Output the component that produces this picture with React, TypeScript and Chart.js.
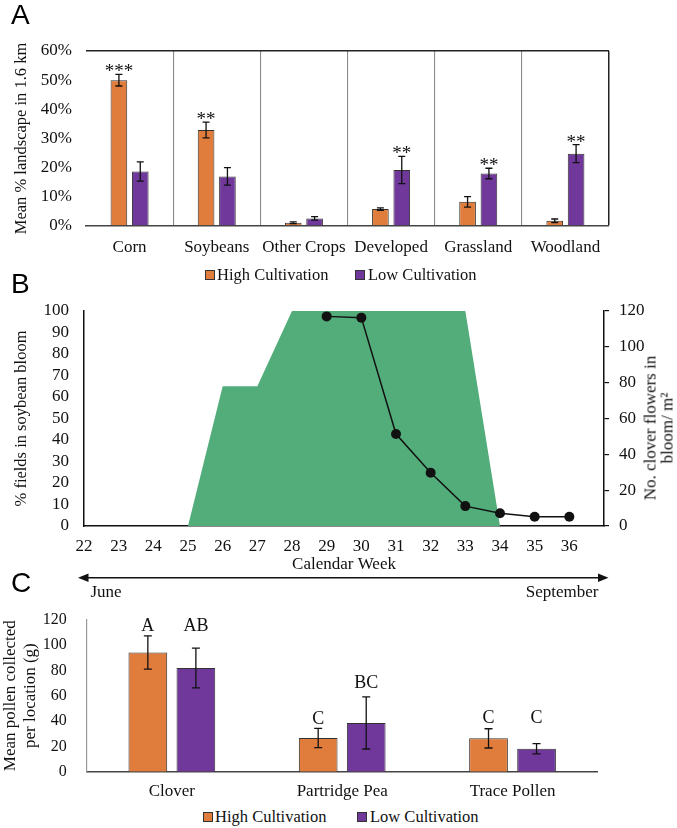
import React, { useEffect, useRef } from 'react';
import { Chart, registerables } from 'chart.js';

Chart.register(...registerables);

const SERIF = "'Liberation Serif', 'Times New Roman', serif";
const SANS = "'Liberation Sans', Arial, sans-serif";
const ORANGE = '#E07D3C';
const PURPLE = '#70389B';
const GREEN = '#52AD7A';
const INK = '#111111';

// ---- Panel A: landscape composition ----
const landCategories = ['Corn', 'Soybeans', 'Other Crops', 'Developed', 'Grassland', 'Woodland'];
const landHigh = [50.0, 32.9, 1.1, 5.8, 8.3, 1.8];
const landHighErr = [2.0, 2.7, 0.3, 0.4, 1.8, 0.6];
const landLow = [18.7, 17.0, 2.6, 19.2, 18.0, 24.8];
const landLowErr = [3.3, 3.0, 0.6, 4.7, 1.8, 3.1];
const landHighSig = ['***', '**', '', '', '', ''];
const landLowSig = ['', '', '', '**', '**', '**'];

// ---- Panel B: bloom phenology ----
const weeks = [22, 23, 24, 25, 26, 27, 28, 29, 30, 31, 32, 33, 34, 35, 36];
const soybeanBloom = [0, 0, 0, 0, 65, 65, 100, 100, 100, 100, 100, 100, 0, 0, 0];
const cloverWeeks = [29, 30, 31, 32, 33, 34, 35, 36];
const cloverFlowers = [117, 116.3, 51.3, 29.7, 11.1, 7.1, 5.2, 5.2];

// ---- Panel C: pollen collected ----
const pollenCategories = ['Clover', 'Partridge Pea', 'Trace Pollen'];
const pollenHigh = [94.0, 26.6, 26.3];
const pollenHighErr = [13.1, 7.6, 7.6];
const pollenLow = [81.8, 38.5, 18.1];
const pollenLowErr = [15.7, 20.6, 4.0];
const pollenHighLetters = ['A', 'C', 'C'];
const pollenLowLetters = ['AB', 'BC', 'C'];
const pollenHighLetterLevel = [115.9, 42.6, 43.1];
const pollenLowLetterLevel = [115.9, 70.4, 43.1];

const errorBarPlugin = {
  id: 'errorBars',
  afterDatasetsDraw(chart: any, _args: any, opts: any) {
    const { ctx } = chart;
    const yScale = chart.scales.y;
    chart.data.datasets.forEach((ds: any, i: number) => {
      if (!ds.errors) return;
      const meta = chart.getDatasetMeta(i);
      meta.data.forEach((el: any, j: number) => {
        const v = ds.data[j];
        const e = ds.errors[j];
        const yt = yScale.getPixelForValue(v + e);
        const yb = yScale.getPixelForValue(v - e);
        const cap = opts.cap;
        ctx.save();
        ctx.strokeStyle = INK;
        ctx.lineWidth = opts.lineWidth;
        ctx.beginPath();
        ctx.moveTo(el.x, yt);
        ctx.lineTo(el.x, yb);
        ctx.moveTo(el.x - cap, yt);
        ctx.lineTo(el.x + cap, yt);
        ctx.moveTo(el.x - cap, yb);
        ctx.lineTo(el.x + cap, yb);
        ctx.stroke();
        if (ds.marks && ds.marks[j]) {
          ctx.fillStyle = INK;
          ctx.font = `${opts.markSize}px ${SERIF}`;
          ctx.textAlign = 'center';
          ctx.textBaseline = 'alphabetic';
          let anchor;
          if (ds.markLevels) anchor = yScale.getPixelForValue(ds.markLevels[j]);
          else anchor = yt - opts.markGap;
          ctx.fillText(ds.marks[j], el.x, anchor + opts.markShift);
        }
        ctx.restore();
      });
    });
  },
};

const tickFont = (size: number) => ({ family: SERIF, size });
const flat = { maxRotation: 0, minRotation: 0, autoSkip: false };

function PanelA() {
  const ref = useRef<HTMLCanvasElement>(null);
  useEffect(() => {
    const chart = new Chart(ref.current as HTMLCanvasElement, {
      type: 'bar',
      data: {
        labels: landCategories,
        datasets: [
          {
            label: 'High Cultivation',
            data: landHigh,
            errors: landHighErr,
            marks: landHighSig,
            backgroundColor: ORANGE,
            borderColor: '#333',
            borderWidth: 1,
            categoryPercentage: 0.49,
            barPercentage: 0.78,
          } as any,
          {
            label: 'Low Cultivation',
            data: landLow,
            errors: landLowErr,
            marks: landLowSig,
            backgroundColor: PURPLE,
            borderColor: '#333',
            borderWidth: 1,
            categoryPercentage: 0.49,
            barPercentage: 0.78,
          } as any,
        ],
      },
      options: {
        responsive: false,
        animation: false,
        layout: { padding: { top: 51, right: 68, left: 0, bottom: 0 } },
        plugins: {
          legend: { display: false },
          tooltip: { enabled: false },
          errorBars: { cap: 3.5, lineWidth: 1.3, markSize: 19, markGap: 7, markShift: 10 },
        } as any,
        scales: {
          x: {
            grid: {
              display: true,
              offset: true,
              drawTicks: false,
              color: (c: any) => (c.index === undefined ? '#222' : c.index === 0 ? 'rgba(0,0,0,0)' : '#8a8a8a'),
              lineWidth: (c: any) => (c.index === undefined ? 1.5 : 1.1),
            },
            border: { display: true, color: '#444', width: 1.5 },
            ticks: { ...flat, font: tickFont(17), color: INK, padding: 11 },
            afterFit: (s: any) => {
              s.height = 34;
            },
          },
          y: {
            min: 0,
            max: 60,
            ticks: { ...flat, stepSize: 10, callback: (v: any) => v + '%', font: tickFont(17), color: INK, padding: 14 },
            grid: {
              drawTicks: false,
              color: (c: any) => (c.tick && c.tick.value === 60 ? '#222' : 'rgba(0,0,0,0)'),
              lineWidth: 1.5,
            },
            border: { display: false },
            title: {
              display: true,
              text: 'Mean % landscape in 1.6 km',
              font: { family: SERIF, size: 16.5 },
              color: INK,
              padding: { top: 12, bottom: 0 },
            },
            afterFit: (s: any) => {
              s.width = 86;
            },
          },
        },
      } as any,
      plugins: [errorBarPlugin as any],
    });
    return () => chart.destroy();
  }, []);
  return <canvas ref={ref} width={677} height={260} style={{ position: 'absolute', left: 0, top: 0 }} />;
}

function PanelB() {
  const ref = useRef<HTMLCanvasElement>(null);
  useEffect(() => {
    const chart = new Chart(ref.current as HTMLCanvasElement, {
      type: 'line',
      data: {
        datasets: [
          {
            label: 'No. clover flowers in bloom/ m²',
            data: cloverWeeks.map((w, i) => ({ x: w, y: cloverFlowers[i] })),
            yAxisID: 'y1',
            borderColor: INK,
            backgroundColor: INK,
            borderWidth: 1.5,
            pointRadius: 5,
            pointBackgroundColor: INK,
            pointBorderWidth: 0,
            tension: 0,
            fill: false,
            order: 0,
          },
          {
            label: '% fields in soybean bloom',
            data: weeks.map((w, i) => ({ x: w, y: soybeanBloom[i] })),
            yAxisID: 'y',
            fill: 'origin',
            backgroundColor: GREEN,
            borderColor: GREEN,
            borderWidth: 0,
            pointRadius: 0,
            tension: 0,
            order: 1,
          },
        ],
      },
      options: {
        responsive: false,
        animation: false,
        layout: { padding: { top: 41, right: 0, left: 0, bottom: 0 } },
        plugins: { legend: { display: false }, tooltip: { enabled: false } },
        scales: {
          x: {
            type: 'linear',
            min: 22,
            max: 37,
            afterBuildTicks: (s: any) => {
              s.ticks = s.ticks.filter((t: any) => t.value <= 36);
            },
            ticks: { ...flat, stepSize: 1, font: tickFont(17), color: INK, padding: 10.5 },
            grid: { display: false, drawTicks: false },
            border: { display: true, color: INK, width: 1.5 },
            title: {
              display: true,
              text: 'Calendar Week',
              font: { family: SERIF, size: 17 },
              color: INK,
              padding: { top: 0, bottom: 0 },
            },
            afterFit: (s: any) => {
              s.height = 49;
            },
          },
          y: {
            position: 'left',
            min: 0,
            max: 100,
            ticks: { ...flat, stepSize: 10, font: tickFont(17), color: INK, padding: 15 },
            grid: { display: false, drawTicks: false },
            border: { display: true, color: INK, width: 1.5 },
            title: {
              display: true,
              text: '% fields in soybean bloom',
              font: { family: SERIF, size: 16.5 },
              color: INK,
              padding: { top: 12, bottom: 0 },
            },
            afterFit: (s: any) => {
              s.width = 84;
            },
          },
          y1: {
            position: 'right',
            min: 0,
            max: 120,
            ticks: { ...flat, stepSize: 20, font: tickFont(17), color: INK, padding: 10 },
            grid: { drawOnChartArea: false, drawTicks: true, tickLength: 5, color: INK, lineWidth: 1.2 },
            border: { display: true, color: INK, width: 1.5 },
            afterFit: (s: any) => {
              s.width = 73;
            },
          },
        },
      } as any,
    });
    return () => chart.destroy();
  }, []);
  return <canvas ref={ref} width={677} height={305} style={{ position: 'absolute', left: 0, top: 270 }} />;
}

function PanelC() {
  const ref = useRef<HTMLCanvasElement>(null);
  useEffect(() => {
    const chart = new Chart(ref.current as HTMLCanvasElement, {
      type: 'bar',
      data: {
        labels: pollenCategories,
        datasets: [
          {
            label: 'High Cultivation',
            data: pollenHigh,
            errors: pollenHighErr,
            marks: pollenHighLetters,
            markLevels: pollenHighLetterLevel,
            backgroundColor: ORANGE,
            borderColor: '#333',
            borderWidth: 1,
            categoryPercentage: 0.564,
            barPercentage: 0.806,
          } as any,
          {
            label: 'Low Cultivation',
            data: pollenLow,
            errors: pollenLowErr,
            marks: pollenLowLetters,
            markLevels: pollenLowLetterLevel,
            backgroundColor: PURPLE,
            borderColor: '#333',
            borderWidth: 1,
            categoryPercentage: 0.564,
            barPercentage: 0.806,
          } as any,
        ],
      },
      options: {
        responsive: false,
        animation: false,
        layout: { padding: { top: 26.7, right: 79.3, left: 0, bottom: 0 } },
        plugins: {
          legend: { display: false },
          tooltip: { enabled: false },
          errorBars: { cap: 4, lineWidth: 1.3, markSize: 18, markGap: 10, markShift: 6 },
        } as any,
        scales: {
          x: {
            grid: { display: false, drawTicks: false },
            border: { display: true, color: '#444', width: 1.5 },
            ticks: { ...flat, font: tickFont(17), color: INK, padding: 10 },
            afterFit: (s: any) => {
              s.height = 33.3;
            },
          },
          y: {
            min: 0,
            max: 120,
            ticks: { ...flat, stepSize: 20, font: tickFont(16), color: INK, padding: 20 },
            grid: { display: false, drawTicks: false },
            border: { display: true, color: '#999', width: 1.2 },
            title: {
              display: true,
              text: ['Mean pollen collected', 'per location (g)'],
              font: { family: SERIF, size: 17 },
              color: INK,
              padding: { top: 0, bottom: 0 },
            },
            afterFit: (s: any) => {
              s.width = 86.7;
            },
          },
        },
      } as any,
      plugins: [errorBarPlugin as any],
    });
    return () => chart.destroy();
  }, []);
  return <canvas ref={ref} width={677} height={215} style={{ position: 'absolute', left: 0, top: 590 }} />;
}

const textStyle = (left: number, centerY: number, size: number): React.CSSProperties => ({
  position: 'absolute',
  left,
  top: centerY - 10,
  height: 20,
  lineHeight: '20px',
  fontFamily: SERIF,
  fontSize: size,
  color: INK,
  whiteSpace: 'nowrap',
});

function LegendRow({ top, boxLefts, textLefts }: { top: number; boxLefts: number[]; textLefts: number[] }) {
  const colors = [ORANGE, PURPLE];
  const names = ['High Cultivation', 'Low Cultivation'];
  return (
    <>
      {names.map((n, i) => (
        <React.Fragment key={n}>
          <div
            style={{
              position: 'absolute',
              left: boxLefts[i],
              top: top - 5,
              width: 10,
              height: 10,
              boxSizing: 'border-box',
              border: '1px solid #333',
              background: colors[i],
            }}
          />
          <div style={textStyle(textLefts[i], top, 16.5)}>{n}</div>
        </React.Fragment>
      ))}
    </>
  );
}

const panelLetter = (t: string, top: number) => (
  <div
    style={{
      position: 'absolute',
      left: 11,
      top,
      fontFamily: SANS,
      fontSize: 28,
      lineHeight: '28px',
      color: '#000',
    }}
  >
    {t}
  </div>
);

export default function App() {
  return (
    <div
      style={{
        position: 'absolute',
        left: 0,
        top: 0,
        width: 677,
        height: 828,
        background: '#fff',
        overflow: 'hidden',
      }}
    >
      <PanelA />
      <PanelB />
      <PanelC />
      {panelLetter('A', 1)}
      {panelLetter('B', 270)}
      {panelLetter('C', 569)}
      <LegendRow top={274.5} boxLefts={[205, 355]} textLefts={[217, 368]} />
      <LegendRow top={816.5} boxLefts={[203, 357]} textLefts={[215, 370]} />
      <div
        style={{
          position: 'absolute',
          left: 659,
          top: 428,
          transform: 'translate(-50%, -50%) rotate(-90deg)',
          fontFamily: SERIF,
          fontSize: 17,
          lineHeight: '16.5px',
          color: INK,
          textAlign: 'center',
          whiteSpace: 'nowrap',
        }}
      >
        No. clover flowers in
        <br />
        bloom/ m²
      </div>
      <svg
        width={677}
        height={20}
        style={{ position: 'absolute', left: 0, top: 568 }}
        viewBox="0 0 677 20"
      >
        <line x1={86} y1={9.7} x2={600} y2={9.7} stroke={INK} strokeWidth={1.5} />
        <polygon points="78,9.7 88.5,5.5 88.5,13.9" fill={INK} />
        <polygon points="608.5,9.7 598,5.5 598,13.9" fill={INK} />
      </svg>
      <div style={textStyle(90.5, 591.7, 17)}>June</div>
      <div style={{ ...textStyle(0, 591.7, 17), left: undefined, right: 677 - 598.5 }}>September</div>
    </div>
  );
}
